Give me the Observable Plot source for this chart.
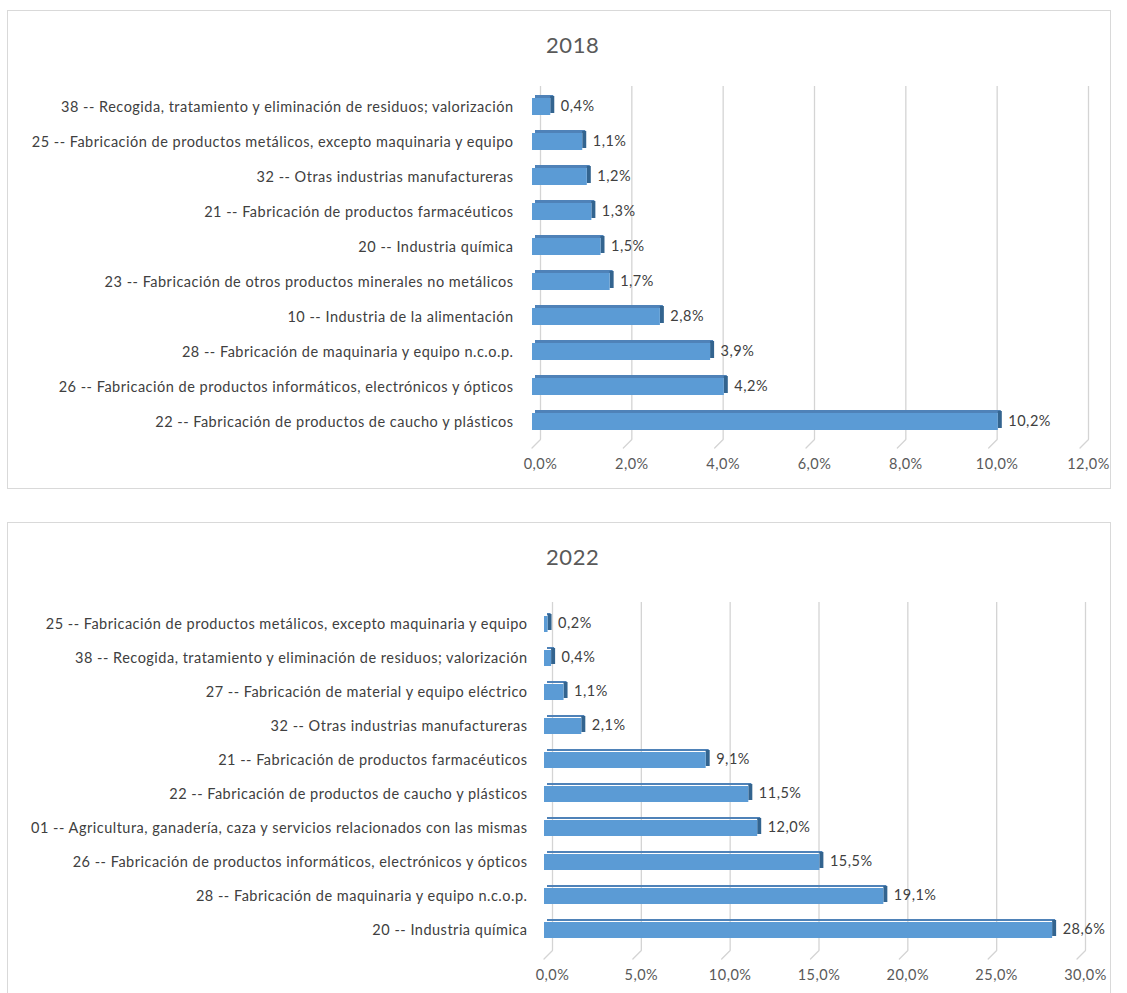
<!DOCTYPE html>
<html>
<head>
<meta charset="utf-8">
<script src="https://cdn.jsdelivr.net/npm/d3@7"></script>
<script src="https://cdn.jsdelivr.net/npm/@observablehq/plot@0.6"></script>
<style>
  body { margin: 0; background: #fff; font-family: Lato, "Open Sans", sans-serif; }
  .box { position: absolute; left: 7px; width: 1102px; height: 477px; border: 1px solid #d9d9d9; background: #fff; overflow: hidden; }
  .title { position: absolute; top: 20px; width: 100%; text-align: left; font-size: 22px; letter-spacing: 0.6px; color: #595959; }
  .box svg { position: absolute; left: 0; top: 0; letter-spacing: 0.5px; }
</style>
</head>
<body>
<div class="box" id="b1" style="top:10px;"><div class="title" style="left:538px;">2018</div></div>
<div class="box" id="b2" style="top:522px;"><div class="title" style="left:538px;">2022</div></div>
<script>
const cats2018 = [
  "38 -- Recogida, tratamiento y eliminación de residuos; valorización",
  "25 -- Fabricación de productos metálicos, excepto maquinaria y equipo",
  "32 -- Otras industrias manufactureras",
  "21 -- Fabricación de productos farmacéuticos",
  "20 -- Industria química",
  "23 -- Fabricación de otros productos minerales no metálicos",
  "10 -- Industria de la alimentación",
  "28 -- Fabricación de maquinaria y equipo n.c.o.p.",
  "26 -- Fabricación de productos informáticos, electrónicos y ópticos",
  "22 -- Fabricación de productos de caucho y plásticos"
];
const vals2018 = [0.4, 1.1, 1.2, 1.3, 1.5, 1.7, 2.8, 3.9, 4.2, 10.2];
const ticks2018 = [0, 2, 4, 6, 8, 10, 12];

const cats2022 = [
  "25 -- Fabricación de productos metálicos, excepto maquinaria y equipo",
  "38 -- Recogida, tratamiento y eliminación de residuos; valorización",
  "27 -- Fabricación de material y equipo eléctrico",
  "32 -- Otras industrias manufactureras",
  "21 -- Fabricación de productos farmacéuticos",
  "22 -- Fabricación de productos de caucho y plásticos",
  "01 -- Agricultura, ganadería, caza y servicios relacionados con las mismas",
  "26 -- Fabricación de productos informáticos, electrónicos y ópticos",
  "28 -- Fabricación de maquinaria y equipo n.c.o.p.",
  "20 -- Industria química"
];
const vals2022 = [0.2, 0.4, 1.1, 2.1, 9.1, 11.5, 12.0, 15.5, 19.1, 28.6];
const ticks2022 = [0, 5, 10, 15, 20, 25, 30];

const fmt = v => v.toFixed(1).replace(".", ",") + "%";
const footShape = { draw(ctx, l) { ctx.moveTo(0, 0); ctx.lineTo(0, -l); } };

function chart(cats, vals, ticks, opts) {
  const data = cats.map((c, i) => ({ c, v: vals[i] }));
  return Plot.plot({
    width: 1102,
    height: 477,
    marginLeft: opts.ml,
    marginRight: opts.mr,
    marginTop: opts.mt,
    marginBottom: opts.mb,
    style: { fontFamily: "Lato, 'Open Sans', sans-serif", fontSize: "14.5px", color: "#404040", background: "transparent" },
    x: { domain: [0, ticks[ticks.length - 1]], axis: null },
    y: { domain: cats, paddingInner: 0.52, paddingOuter: 0.26, axis: null },
    marks: [
      Plot.ruleX(ticks, { x: d => d, dx: 8, stroke: "#d4d4d4", strokeWidth: 1.3, insetTop: -3, insetBottom: 0 }),
      Plot.vector(ticks, { x: d => d, frameAnchor: "bottom", length: 12, rotate: 225, anchor: "start", shape: footShape, stroke: "#d4d4d4", strokeWidth: 1.3, dx: 8 }),
      Plot.text(ticks, { x: d => d, frameAnchor: "bottom", text: d => fmt(d), dx: 8, dy: 29, fill: "#595959", fontSize: 14.5 }),
      Plot.axisY({ tickSize: 0, tickPadding: opts.tp, fill: "#404040", fontSize: 14.5, label: null }),
      // top 3D face
      Plot.rectX(data, { x1: 0, x2: "v", y: "c", fill: "#4f82b8", insetBottom: 14, dy: -3, dx: 3 }),
      // end face
      Plot.rectX(data, { x1: "v", x2: "v", y: "c", fill: "#33648f", insetRight: -4, dy: -2 }),
      Plot.barX(data, { x: "v", y: "c", fill: "#5b9bd5" }),
      Plot.text(data, { x: "v", y: "c", text: d => fmt(d.v), dx: 10, dy: -1, textAnchor: "start", fill: "#404040", fontSize: 14.5 })
    ]
  });
}

document.getElementById("b1").appendChild(
  chart(cats2018, vals2018, ticks2018, { ml: 524, mr: 30, mt: 78, mb: 49, tp: 19 })
);
document.getElementById("b2").appendChild(
  chart(cats2022, vals2022, ticks2022, { ml: 536, mr: 33, mt: 82, mb: 50, tp: 17 })
);
</script>
</body>
</html>
